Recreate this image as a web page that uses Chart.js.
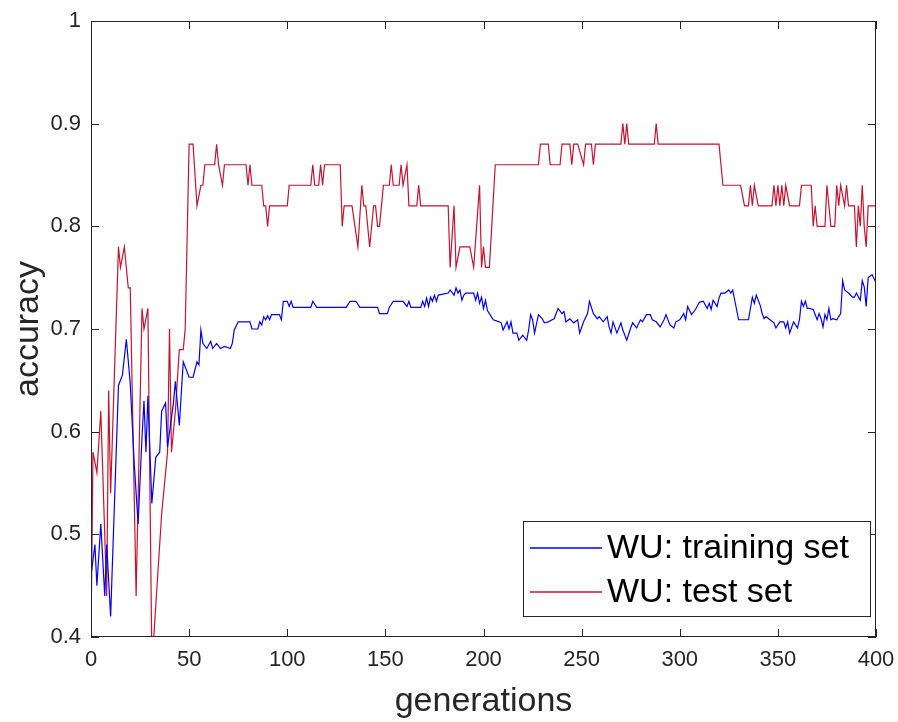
<!DOCTYPE html>
<html>
<head>
<meta charset="utf-8">
<script src="https://cdn.jsdelivr.net/npm/chart.js@4.4.1/dist/chart.umd.min.js"></script>
<style>
  html, body { margin: 0; background: #fff; }
</style>
</head>
<body>
<canvas id="c" width="898" height="722"></canvas>
<script>
/* WU accuracy per generation. */
const xTicks = [0, 50, 100, 150, 200, 250, 300, 350, 400];
const yTicks = [0.4, 0.5, 0.6, 0.7, 0.8, 0.9, 1];

const trainGen = [0, 2, 3, 5, 7, 8, 10, 14, 16, 18, 20, 22, 24, 26, 27, 28, 29, 31, 33, 35, 36, 38, 39, 42, 43, 45, 47, 50, 52, 54, 55, 56, 57, 59,
  61, 62, 64, 66, 68, 71, 72, 73, 75, 81, 82, 85, 86, 87, 88, 89, 90, 91, 92, 96, 97, 98, 100, 101, 102, 103, 112, 113, 115, 130, 132, 135, 137,
  146, 147, 151, 152, 154, 159, 161, 162, 163, 168, 169, 170, 171, 172, 173, 174, 175, 176, 177, 182, 183, 185, 186, 187, 188, 189, 190, 191,
  195, 196, 197, 198, 199, 200, 201, 202, 203, 205, 208, 209, 210, 212, 213, 214, 215, 217, 218, 220, 222, 223, 224, 225, 226, 228, 230, 231,
  233, 235, 236, 238, 240, 241, 242, 244, 246, 248, 249, 251, 253, 254, 256, 258, 259, 261, 263, 264, 265, 266, 268, 270, 271, 273, 275, 276,
  278, 280, 281, 283, 285, 286, 288, 290, 292, 293, 295, 297, 298, 300, 302, 303, 304, 306, 308, 310, 312, 314, 315, 316, 317, 319, 320, 321,
  323, 325, 326, 327, 328, 330, 335, 337, 338, 339, 341, 342, 343, 344, 346, 348, 349, 351, 353, 354, 355, 356, 358, 360, 361, 362, 363, 364,
  365, 366, 368, 370, 371, 372, 373, 374, 375, 376, 377, 378, 380, 382, 383, 384, 386, 388, 389, 390, 392, 393, 394, 395, 396, 398, 400];
const trainAcc = [0.46, 0.49, 0.45, 0.51, 0.44, 0.49, 0.42, 0.645, 0.655, 0.69, 0.647, 0.57, 0.51, 0.595, 0.63, 0.58, 0.635, 0.53, 0.575, 0.58, 0.62, 0.628, 0.585, 0.628, 0.649, 0.606, 0.668, 0.653, 0.653, 0.668, 0.665, 0.699, 0.686, 0.681,
  0.688, 0.681, 0.686, 0.681, 0.683, 0.681, 0.686, 0.699, 0.707, 0.707, 0.700, 0.700, 0.707, 0.704, 0.712, 0.709, 0.713, 0.709, 0.714, 0.714, 0.709, 0.727, 0.727, 0.722, 0.727, 0.721, 0.721, 0.727, 0.721, 0.721, 0.727, 0.727, 0.721,
  0.721, 0.715, 0.715, 0.721, 0.727, 0.727, 0.722, 0.727, 0.721, 0.721, 0.727, 0.722, 0.730, 0.722, 0.731, 0.727, 0.733, 0.727, 0.733, 0.735, 0.738, 0.733, 0.740, 0.735, 0.738, 0.728, 0.733, 0.735,
  0.735, 0.728, 0.735, 0.725, 0.731, 0.720, 0.728, 0.718, 0.715, 0.709, 0.707, 0.706, 0.699, 0.707, 0.700, 0.707, 0.696, 0.696, 0.689, 0.694, 0.689, 0.699, 0.714, 0.709, 0.696, 0.714, 0.710, 0.706,
  0.707, 0.709, 0.710, 0.720, 0.715, 0.717, 0.707, 0.710, 0.706, 0.709, 0.696, 0.707, 0.715, 0.727, 0.715, 0.710, 0.712, 0.707, 0.712, 0.702, 0.696, 0.707, 0.696, 0.706, 0.699, 0.689, 0.701, 0.706,
  0.701, 0.709, 0.707, 0.714, 0.714, 0.709, 0.707, 0.702, 0.709, 0.714, 0.704, 0.701, 0.707, 0.709, 0.715, 0.709, 0.722, 0.714, 0.719, 0.726, 0.727, 0.720, 0.725, 0.719, 0.728, 0.722, 0.730, 0.735,
  0.735, 0.738, 0.735, 0.738, 0.728, 0.709, 0.709, 0.731, 0.725, 0.733, 0.723, 0.715, 0.710, 0.712, 0.709, 0.706, 0.701, 0.707, 0.707, 0.701, 0.707, 0.696, 0.707, 0.701, 0.709, 0.727, 0.722, 0.727,
  0.720, 0.720, 0.719, 0.709, 0.715, 0.710, 0.702, 0.714, 0.709, 0.720, 0.709, 0.710, 0.709, 0.715, 0.747, 0.738, 0.735, 0.731, 0.731, 0.735, 0.728, 0.747, 0.741, 0.722, 0.750, 0.753, 0.745];

const testGen = [0, 1, 3, 5, 8, 9, 10, 14, 15, 17, 19, 20, 23, 26, 27, 29, 31, 32, 36, 39, 40, 41, 43, 45, 47, 48, 50, 52, 54, 56, 57, 58, 63, 64, 65, 67, 68,
  79, 80, 81, 82, 87, 88, 89, 90, 91, 100, 101, 112, 113, 114, 116, 117, 118, 119, 127, 128, 129, 133, 136, 138, 139, 140, 142, 144, 145, 146, 147, 149,
  152, 153, 154, 157, 158, 159, 161, 162, 166, 167, 168, 182, 183, 185, 186, 188, 193, 195, 198, 199, 200, 201, 203, 206, 228, 229, 233, 234, 239, 240,
  244, 245, 246, 248, 251, 252, 255, 256, 257, 270, 271, 272, 273, 274, 287, 288, 289, 320, 322, 331, 333, 335, 336, 337, 338, 340, 347, 348, 349, 350,
  351, 352, 353, 354, 356, 361, 362, 367, 368, 369, 370, 374, 375, 376, 377, 379, 380, 381, 382, 384, 385, 386, 389, 390, 391, 392, 393, 394, 395, 396, 400];
const testAcc = [0.40, 0.58, 0.56, 0.62, 0.44, 0.64, 0.54, 0.78, 0.76, 0.78, 0.74, 0.74, 0.44, 0.72, 0.70, 0.72, 0.38, 0.40, 0.52, 0.58, 0.70, 0.58, 0.62, 0.68, 0.68, 0.70, 0.88, 0.88, 0.82, 0.84, 0.84, 0.86, 0.86, 0.88, 0.86, 0.84, 0.86,
  0.86, 0.84, 0.86, 0.84, 0.84, 0.82, 0.82, 0.80, 0.82, 0.82, 0.84, 0.84, 0.86, 0.84, 0.84, 0.86, 0.84, 0.86, 0.86, 0.80, 0.82, 0.82, 0.78, 0.84, 0.82, 0.82, 0.78, 0.82, 0.82, 0.80, 0.80, 0.84,
  0.84, 0.86, 0.84, 0.84, 0.86, 0.84, 0.86, 0.82, 0.82, 0.84, 0.82, 0.82, 0.76, 0.82, 0.76, 0.78, 0.78, 0.76, 0.84, 0.76, 0.78, 0.76, 0.76, 0.86, 0.86, 0.88, 0.88, 0.86, 0.86, 0.88,
  0.88, 0.86, 0.88, 0.88, 0.86, 0.88, 0.88, 0.86, 0.88, 0.88, 0.90, 0.88, 0.90, 0.88, 0.88, 0.90, 0.88, 0.88, 0.84, 0.84, 0.82, 0.82, 0.84, 0.82, 0.84, 0.82, 0.82, 0.84, 0.82, 0.84,
  0.82, 0.84, 0.82, 0.84, 0.82, 0.82, 0.84, 0.84, 0.80, 0.82, 0.80, 0.80, 0.84, 0.82, 0.80, 0.80, 0.84, 0.82, 0.84, 0.82, 0.84, 0.82, 0.82, 0.78, 0.82, 0.80, 0.84, 0.80, 0.78, 0.82, 0.82];

const FONT = "'Liberation Sans', Arial, Helvetica, sans-serif";
const INK = "#262626";
const pts = (gs, vs) => gs.map((g, i) => ({ x: g, y: vs[i] }));

// MATLAB-style box: frame, inward ticks on all four sides, legend box in the lower right.
const matlabBox = {
  id: "matlabBox",
  afterDraw(chart) {
    const { ctx, chartArea: a, scales: { x, y } } = chart;
    ctx.save();
    ctx.strokeStyle = INK;
    ctx.lineWidth = 1;
    ctx.strokeRect(a.left + 0.5, a.top + 0.5, a.right - a.left - 1, a.bottom - a.top - 1);
    const tl = 8;
    ctx.beginPath();
    xTicks.forEach(v => {
      const px = Math.round(x.getPixelForValue(v)) + 0.5;
      ctx.moveTo(px, a.bottom); ctx.lineTo(px, a.bottom - tl);
      ctx.moveTo(px, a.top); ctx.lineTo(px, a.top + tl);
    });
    yTicks.forEach(v => {
      const py = Math.round(y.getPixelForValue(v)) + 0.5;
      ctx.moveTo(a.left, py); ctx.lineTo(a.left + tl, py);
      ctx.moveTo(a.right, py); ctx.lineTo(a.right - tl, py);
    });
    ctx.stroke();

    // legend
    const bx = a.right - 353, by = a.bottom - 116, bw = 347, bh = 95;
    ctx.fillStyle = "#fff";
    ctx.fillRect(bx, by, bw, bh);
    ctx.strokeStyle = INK;
    ctx.strokeRect(bx + 0.5, by + 0.5, bw, bh);
    ctx.font = "34px " + FONT;
    ctx.textBaseline = "middle";
    chart.data.datasets.forEach((ds, i) => {
      const ly = by + 27 + i * 44;
      ctx.strokeStyle = ds.borderColor;
      ctx.lineWidth = 1.3;
      ctx.beginPath(); ctx.moveTo(bx + 7, ly); ctx.lineTo(bx + 79, ly); ctx.stroke();
      ctx.fillStyle = "#000";
      ctx.fillText(ds.label, bx + 84, ly + 1);
    });
    ctx.restore();
  },
};

new Chart(document.getElementById("c"), {
  type: "line",
  data: {
    datasets: [
      { label: "WU: training set", data: pts(trainGen, trainAcc), borderColor: "#0000ff", borderWidth: 1.2, pointRadius: 0, tension: 0 },
      { label: "WU: test set", data: pts(testGen, testAcc), borderColor: "#c8122f", borderWidth: 1.2, pointRadius: 0, tension: 0 },
    ],
  },
  options: {
    responsive: false,
    animation: false,
    layout: { padding: { top: 21, right: 22, left: 0, bottom: 0 } },
    plugins: { legend: { display: false }, tooltip: { enabled: false } },
    scales: {
      x: {
        type: "linear", min: 0, max: 400,
        afterBuildTicks: s => { s.ticks = xTicks.map(v => ({ value: v })); },
        afterFit: s => { s.height = 85; s.paddingLeft = 0; s.paddingRight = 0; },
        grid: { display: false, drawTicks: false },
        border: { display: false },
        ticks: { font: { family: FONT, size: 22 }, color: INK, padding: 10, maxRotation: 0, autoSkip: false },
        title: { display: true, text: "generations", font: { family: FONT, size: 34 }, color: INK, padding: { top: 0, bottom: 0 } },
      },
      y: {
        type: "linear", min: 0.4, max: 1,
        afterBuildTicks: s => { s.ticks = yTicks.map(v => ({ value: v })); },
        afterFit: s => { s.width = 91; s.paddingTop = 0; s.paddingBottom = 0; },
        grid: { display: false, drawTicks: false },
        border: { display: false },
        ticks: { font: { family: FONT, size: 22 }, color: INK, padding: 10, callback: v => String(+v.toFixed(1)) },
        title: { display: true, text: "accuracy", font: { family: FONT, size: 34 }, color: INK, padding: { top: 8, bottom: 0 } },
      },
    },
  },
  plugins: [matlabBox],
});
</script>
</body>
</html>
